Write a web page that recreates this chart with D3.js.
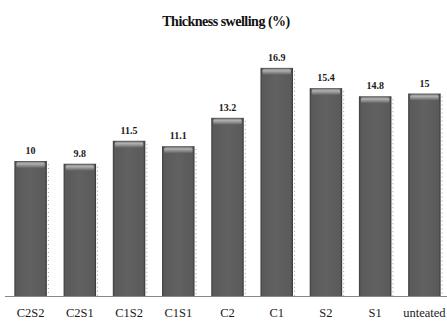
<!DOCTYPE html>
<html>
<head>
<meta charset="utf-8">
<script src="https://cdn.jsdelivr.net/npm/d3@7"></script>
<style>
  html, body { margin: 0; padding: 0; background: #fff; }
  svg { display: block; }
</style>
</head>
<body>
<div id="chart"></div>
<script>
// Thickness swelling per treatment
const categories = ["C2S2", "C2S1", "C1S2", "C1S1", "C2", "C1", "S2", "S1", "unteated"];
const values = [10, 9.8, 11.5, 11.1, 13.2, 16.9, 15.4, 14.8, 15];
const valueLabels = ["10", "9.8", "11.5", "11.1", "13.2", "16.9", "15.4", "14.8", "15"];
const title = "Thickness swelling (%)";

const W = 447, H = 325;
const serif = "'Liberation Serif', 'Times New Roman', serif";
const svg = d3.select("#chart").append("svg").attr("width", W).attr("height", H);

const x = d3.scaleBand().domain(categories).range([6, 449]).paddingInner(0.34).paddingOuter(0.17);
const y = d3.scaleLinear().domain([0, 20]).range([296, 26]);

const defs = svg.append("defs");
// horizontal shading across each bar: flat centre, dark rims
const body = defs.append("linearGradient").attr("id", "barBody").attr("x1", 0).attr("x2", 1).attr("y1", 0).attr("y2", 0);
body.append("stop").attr("offset", "0%").attr("stop-color", "#3a3a3a");
body.append("stop").attr("offset", "6%").attr("stop-color", "#5a5a5a");
body.append("stop").attr("offset", "50%").attr("stop-color", "#616161");
body.append("stop").attr("offset", "94%").attr("stop-color", "#5a5a5a");
body.append("stop").attr("offset", "100%").attr("stop-color", "#333333");
// bevelled cap at the top of each bar
const cap = defs.append("linearGradient").attr("id", "barCap").attr("x1", 0).attr("x2", 0).attr("y1", 0).attr("y2", 1);
cap.append("stop").attr("offset", "0%").attr("stop-color", "#8a8a8a");
cap.append("stop").attr("offset", "30%").attr("stop-color", "#b0b0b0");
cap.append("stop").attr("offset", "100%").attr("stop-color", "#616161");

const data = categories.map((c, i) => ({ c, v: values[i], label: valueLabels[i] }));

const bars = svg.append("g").selectAll("g").data(data).join("g");

// faint dotted shadow on the right side of each bar
bars.append("line")
  .attr("x1", d => x(d.c) + x.bandwidth() + 1.5)
  .attr("x2", d => x(d.c) + x.bandwidth() + 1.5)
  .attr("y1", d => y(d.v) + 3)
  .attr("y2", y(0))
  .attr("stroke", "#a0a0a0")
  .attr("stroke-width", 1)
  .attr("stroke-dasharray", "1,3");

bars.append("rect")
  .attr("x", d => x(d.c))
  .attr("y", d => y(d.v))
  .attr("width", x.bandwidth())
  .attr("height", d => y(0) - y(d.v))
  .attr("fill", "url(#barBody)");

bars.append("rect")
  .attr("x", d => x(d.c) + 2)
  .attr("y", d => y(d.v) + 1)
  .attr("width", x.bandwidth() - 4)
  .attr("height", 6)
  .attr("rx", 2)
  .attr("fill", "url(#barCap)");

// value labels
bars.append("text")
  .attr("x", d => x(d.c) + x.bandwidth() / 2)
  .attr("y", d => y(d.v) - 7)
  .attr("text-anchor", "middle")
  .attr("font-family", serif)
  .attr("font-weight", "bold")
  .attr("font-size", 10)
  .attr("fill", "#1a1a1a")
  .text(d => d.label);

// baseline axis
const xAxis = d3.axisBottom(x).tickSize(0);
const gx = svg.append("g").attr("transform", `translate(0,${y(0)})`).call(xAxis);
gx.select(".domain").attr("d", `M5,0.5H447`).attr("stroke", "#888").attr("stroke-width", 1);
gx.selectAll("text")
  .attr("y", 21)
  .attr("dy", null)
  .attr("font-family", serif)
  .attr("font-size", 12.5)
  .attr("fill", "#1a1a1a");

// title
svg.append("text")
  .attr("x", 226)
  .attr("y", 26)
  .attr("text-anchor", "middle")
  .attr("font-family", serif)
  .attr("font-weight", "bold")
  .attr("font-size", 14)
  .attr("letter-spacing", "-0.5")
  .attr("fill", "#111")
  .text(title);
</script>
</body>
</html>
